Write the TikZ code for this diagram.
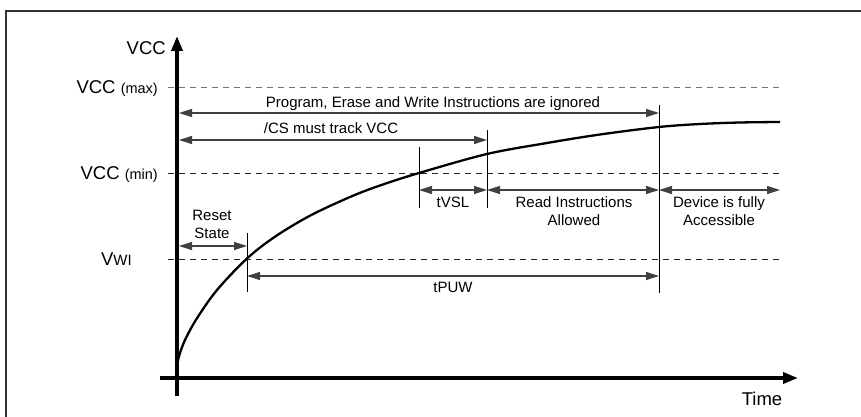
\documentclass[tikz,border=0pt]{standalone}
\usepackage{fontspec}
\setmainfont{Liberation Sans}
\usetikzlibrary{arrows.meta}
\begin{document}
\begin{tikzpicture}[x=1pt,y=-1pt,
  frame/.style={draw=black!80,line width=1.3pt},
  axis/.style={line width=3.5pt,-{Triangle[length=15pt,width=11pt]}},
  level/.style={dash pattern=on 6pt off 5pt,line width=1pt,draw=black!85},
  levelgray/.style={dash pattern=on 6pt off 5pt,line width=1pt,draw=black!55},
  marker/.style={line width=1pt},
  span/.style={line width=1.1pt,draw=black!75,{Triangle[length=13pt,width=8pt]}-{Triangle[length=13pt,width=8pt]}},
  lbl/.style={inner sep=0pt,font=\fontsize{15}{18}\selectfont,align=center},
  big/.style={inner sep=0pt,font=\fontsize{18.5}{20}\selectfont},
  curve/.style={line width=2.3pt,line join=round}
]
\useasboundingbox (0,0) rectangle (861,417);
% frame
\coordinate (fbl) at (6,417);
\coordinate (ftl) at (6,11);
\coordinate (ftr) at (861,11);
\draw[frame] (fbl) -- (ftl) -- (ftr);

% level lines
\coordinate (maxL) at (168,88);  \coordinate (maxR) at (780,88);
\coordinate (minL) at (168,173); \coordinate (minR) at (780,173);
\coordinate (vwiL) at (168,259); \coordinate (vwiR) at (780,259);
\draw[levelgray] (maxL) -- (maxR);
\draw[level] (minL) -- (minR);
\draw[level] (vwiL) -- (vwiR);

% curve
\draw[curve] plot[smooth,tension=0.55] coordinates {
 (177,368) (177.5,363.1) (178.5,358.3) (181,350) (186,337.9) (197,318.2) (217,290) (247,258.5)
 (275,236.7) (310,215.7) (350,197) (380,185.5) (419,173) (487,154) (547,143) (600,134.5)
 (659,127) (700,124) (740,122.5) (780,122)};

% markers
\coordinate (v0t) at (247,233); \coordinate (v0b) at (247,292);
\coordinate (v1t) at (419,147); \coordinate (v1b) at (419,208);
\coordinate (v2t) at (487,130); \coordinate (v2b) at (487,208);
\coordinate (v3t) at (659,105); \coordinate (v3b) at (659,293);
\draw[marker] (v0t) -- (v0b);
\draw[marker] (v1t) -- (v1b);
\draw[marker] (v2t) -- (v2b);
\draw[marker] (v3t) -- (v3b);

% spans
\coordinate (pA) at (179,113); \coordinate (pB) at (659,113);
\coordinate (cA) at (179,140); \coordinate (cB) at (487,140);
\coordinate (r1) at (419,190); \coordinate (r2) at (487,190);
\coordinate (r3) at (659,190); \coordinate (r4) at (780,190);
\coordinate (sA) at (179,246); \coordinate (sB) at (247,246);
\coordinate (tA) at (247,276); \coordinate (tB) at (659,276);
\draw[span] (pA) -- (pB);
\draw[span] (cA) -- (cB);
\draw[span] (r1) -- (r2);
\draw[span] (r2) -- (r3);
\draw[span] (r3) -- (r4);
\draw[span] (sA) -- (sB);
\draw[span] (tA) -- (tB);

% axes
\coordinate (yb) at (177,396); \coordinate (yt) at (177,36);
\coordinate (xl) at (160,378); \coordinate (xr) at (798,378);
\draw[axis] (yb) -- (yt);
\draw[axis] (xl) -- (xr);

% labels
\node[lbl,anchor=base] (tprog) at (433,107) {Program, Erase and Write Instructions are ignored};
\node[lbl,anchor=base] (tcs) at (331,133) {/CS must track VCC};
\node[lbl,anchor=base] (tvsl) at (453,207) {tVSL};
\node[lbl,anchor=base] (tread) at (574,225) {Read Instructions\\Allowed};
\node[lbl,anchor=base] (tdev) at (719,225) {Device is fully\\Accessible};
\node[lbl,anchor=base] (treset) at (212,238) {Reset\\State};
\node[lbl,anchor=base] (tpuw) at (453,292) {tPUW};
\node[big,anchor=base east] (tvcc) at (166,55) {VCC};
\node[big,anchor=base east] (tvmax) at (158,94) {VCC {\fontsize{14.5}{16}\selectfont(max)}};
\node[big,anchor=base east] (tvmin) at (158,179) {VCC {\fontsize{14.5}{16}\selectfont(min)}};
\node[big,anchor=base east] (tvwi) at (132,265) {V{\fontsize{15}{16}\selectfont WI}};
\node[big,anchor=base] (ttime) at (762,405) {Time};
\end{tikzpicture}
\end{document}
